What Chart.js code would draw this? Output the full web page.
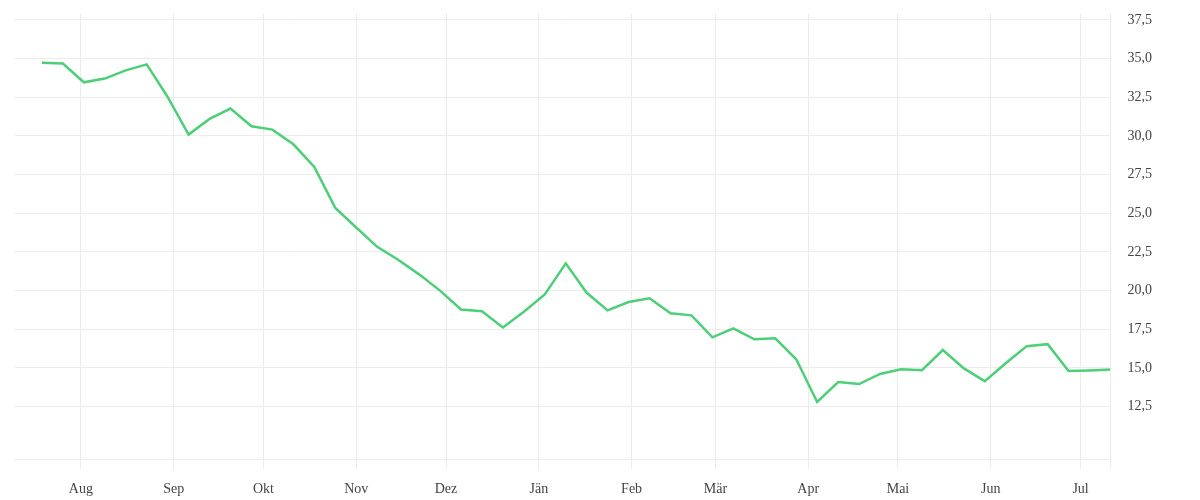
<!DOCTYPE html>
<html>
<head>
<meta charset="utf-8">
<script src="https://cdn.jsdelivr.net/npm/chart.js@4.4.1/dist/chart.umd.min.js"></script>
<style>
    html, body { margin: 0; padding: 0; background: #fff; }
    #wrap { width: 1200px; height: 500px; }
</style>
</head>
<body>
<div id="wrap"><canvas id="trendChart"></canvas></div>
<script>
// weekly readings, Jul 2022 - Jul 2023
var weeks = [
    '2022-07-19', '2022-07-26', '2022-08-02', '2022-08-09', '2022-08-16', '2022-08-23', '2022-08-30',
    '2022-09-06', '2022-09-13', '2022-09-20', '2022-09-27', '2022-10-04', '2022-10-11', '2022-10-18',
    '2022-10-25', '2022-11-01', '2022-11-08', '2022-11-15', '2022-11-22', '2022-11-29', '2022-12-06',
    '2022-12-13', '2022-12-20', '2022-12-27', '2023-01-03', '2023-01-10', '2023-01-17', '2023-01-24',
    '2023-01-31', '2023-02-07', '2023-02-14', '2023-02-21', '2023-02-28', '2023-03-07', '2023-03-14',
    '2023-03-21', '2023-03-28', '2023-04-04', '2023-04-11', '2023-04-18', '2023-04-25', '2023-05-02',
    '2023-05-09', '2023-05-16', '2023-05-23', '2023-05-30', '2023-06-06', '2023-06-13', '2023-06-20',
    '2023-06-27', '2023-07-04', '2023-07-11'
];
var values = [
    34.74, 34.68, 33.47, 33.71, 34.24, 34.63, 32.52, 30.09, 31.10, 31.77, 30.63, 30.41, 29.46,
    28.00, 25.35, 24.08, 22.83, 22.00, 21.05, 20.00, 18.78, 18.67, 17.62, 18.64, 19.75, 21.76,
    19.86, 18.72, 19.26, 19.50, 18.53, 18.40, 16.98, 17.56, 16.85, 16.92, 15.56, 12.80, 14.09,
    13.96, 14.61, 14.91, 14.85, 16.16, 14.97, 14.15, 15.30, 16.41, 16.54, 14.80, 14.84, 14.90
];
var monthStarts = [
    '2022-08-01', '2022-09-01', '2022-10-01', '2022-11-01', '2022-12-01', '2023-01-01',
    '2023-02-01', '2023-03-01', '2023-04-01', '2023-05-01', '2023-06-01', '2023-07-01'
];
var monthLabels = ['Aug', 'Sep', 'Okt', 'Nov', 'Dez', 'Jän', 'Feb', 'Mär', 'Apr', 'Mai', 'Jun', 'Jul'];
var yTicks = [12.5, 15, 17.5, 20, 22.5, 25, 27.5, 30, 32.5, 35, 37.5];
var xStart = '2022-07-10';
var xEnd = '2023-07-11';

function toDay(s) {
    return Date.parse(s + 'T00:00:00Z') / 86400000;
}

document.addEventListener('DOMContentLoaded', function () {
    var gridColor = '#ececec';
    var textFont = { family: 'Liberation Serif', size: 14 };

    var points = weeks.map(function (d, i) {
        return { x: toDay(d), y: values[i] };
    });

    var ctx = document.getElementById('trendChart').getContext('2d');
    var trendChart = new Chart(ctx, {
        type: 'line',
        data: {
            datasets: [{
                data: points,
                borderColor: '#4ccf78',
                borderWidth: 2.5,
                pointRadius: 0,
                pointHoverRadius: 0,
                tension: 0,
                fill: false
            }]
        },
        options: {
            responsive: true,
            maintainAspectRatio: false,
            animation: false,
            layout: {
                // bottom is negative: the x labels sit low, Chart.js doubles tick padding
                padding: { left: 15, top: 13, right: 45, bottom: -10 }
            },
            plugins: {
                legend: { display: false },
                tooltip: { enabled: false }
            },
            scales: {
                x: {
                    type: 'linear',
                    min: toDay(xStart),
                    max: toDay(xEnd),
                    afterBuildTicks: function (axis) {
                        var t = monthStarts.map(function (d) { return { value: toDay(d) }; });
                        t.push({ value: toDay(xEnd) });
                        axis.ticks = t;
                    },
                    ticks: {
                        autoSkip: false,
                        maxRotation: 0,
                        padding: 12,
                        color: '#444',
                        font: textFont,
                        callback: function (value, index) {
                            return monthLabels[index] || '';
                        }
                    },
                    grid: {
                        color: gridColor,
                        tickColor: gridColor,
                        tickLength: 10
                    },
                    border: { color: gridColor }
                },
                y: {
                    position: 'right',
                    min: 9.1,
                    max: 37.95,
                    afterBuildTicks: function (axis) {
                        axis.ticks = yTicks.map(function (v) { return { value: v }; });
                    },
                    ticks: {
                        padding: 3,
                        color: '#444',
                        font: textFont,
                        callback: function (value) {
                            return value.toFixed(1).replace('.', ',');
                        }
                    },
                    grid: {
                        color: gridColor,
                        tickLength: 14,
                        tickColor: 'rgba(0,0,0,0)'
                    },
                    border: { color: gridColor }
                }
            }
        }
    });
});
</script>
</body>
</html>
